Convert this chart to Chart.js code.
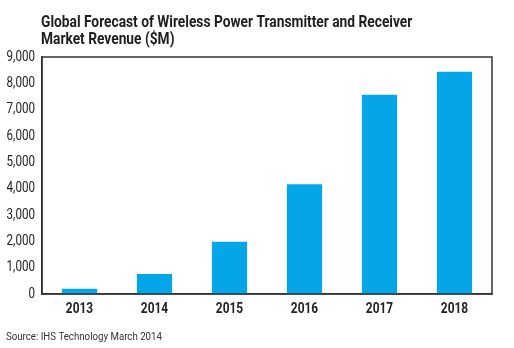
<!DOCTYPE html>
<html>
<head>
<meta charset="utf-8">
<script src="https://cdn.jsdelivr.net/npm/chart.js@4.4.1/dist/chart.umd.min.js"></script>
<style>
    html, body { margin: 0; padding: 0; background: #fff; }
    #wrap { width: 514px; height: 348px; position: relative; }
</style>
</head>
<body>
<div id="wrap"><canvas id="revenueChart" width="514" height="348"></canvas></div>
<script>
const years = ['2013', '2014', '2015', '2016', '2017', '2018'];
const revenue = [200, 760, 1980, 4170, 7570, 8440];
const yTicks = [0, 1000, 2000, 3000, 4000, 5000, 6000, 7000, 8000, 9000];
const titleLines = ['Global Forecast of Wireless Power Transmitter and Receiver', 'Market Revenue ($M)'];
const sourceNote = 'Source: IHS Technology March 2014';

const FONT = "'Roboto', sans-serif";

// narrow text: Roboto squeezed horizontally, anchored by align
const squeezeText = (c, text, x, y, sx, align) => {
    c.save();
    c.translate(x, y);
    c.scale(sx, 1);
    c.textAlign = align || 'left';
    c.fillText(text, 0, 0);
    c.restore();
};

// title, tick labels, source line and the frame round the plot
const decorations = {
    id: 'decorations',
    afterDraw(chart) {
        const c = chart.ctx;
        const area = chart.chartArea;
        const xs = chart.scales.x;
        const ys = chart.scales.y;
        c.save();
        c.strokeStyle = '#333';
        c.lineWidth = 1.5;
        c.strokeRect(area.left, area.top, area.right - area.left, area.bottom - area.top);

        c.fillStyle = '#1e1e1e';
        c.textBaseline = 'alphabetic';
        c.font = 'bold 16px ' + FONT;
        titleLines.forEach((t, i) => squeezeText(c, t, 41, 27 + i * 17, 0.86));

        c.fillStyle = '#222';
        c.textBaseline = 'middle';
        c.font = '14px ' + FONT;
        ys.ticks.forEach((t) => {
            squeezeText(c, t.value.toLocaleString('en-US'), area.left - 7, ys.getPixelForValue(t.value), 0.83, 'right');
        });
        c.font = 'bold 14px ' + FONT;
        years.forEach((y, i) => {
            squeezeText(c, y, xs.getPixelForTick(i), area.bottom + 15, 0.85, 'center');
        });

        c.fillStyle = '#333';
        c.textBaseline = 'alphabetic';
        c.font = '11px ' + FONT;
        squeezeText(c, sourceNote, 6, 340, 0.88);
        c.restore();
    }
};

new Chart(document.getElementById('revenueChart'), {
    type: 'bar',
    data: {
        labels: years,
        datasets: [{
            label: 'Revenue ($M)',
            data: revenue,
            backgroundColor: '#04a6e8',
            categoryPercentage: 1,
            barPercentage: 0.47
        }]
    },
    options: {
        responsive: false,
        animation: false,
        layout: { padding: { top: 57, right: 22, bottom: 0, left: 0 } },
        plugins: {
            legend: { display: false },
            tooltip: { enabled: false }
        },
        scales: {
            x: {
                grid: { display: false },
                border: { color: '#333', width: 1.5 },
                ticks: { display: false },
                afterFit: (s) => { s.height = 54; }
            },
            y: {
                min: 0,
                max: 9000,
                grid: { display: false },
                border: { color: '#333', width: 1.5 },
                afterBuildTicks: (s) => { s.ticks = yTicks.map((v) => ({ value: v })); },
                ticks: { display: false },
                afterFit: (s) => { s.width = 42; }
            }
        }
    },
    plugins: [decorations]
});
</script>
</body>
</html>
